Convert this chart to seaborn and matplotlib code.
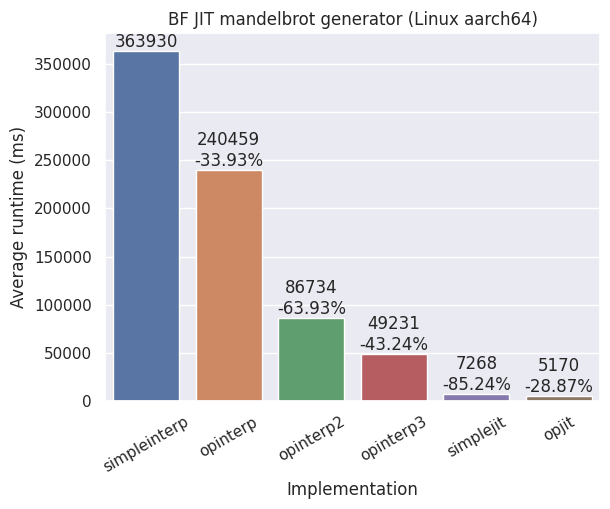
import seaborn as sns
import matplotlib.pyplot as plt
import pandas as pd

implementations = ["simpleinterp", "opinterp", "opinterp2", "opinterp3", "simplejit", "opjit"]
runtimes = [363930, 240459, 86734, 49231, 7268, 5170]
changes = ["", "-33.93%", "-63.93%", "-43.24%", "-85.24%", "-28.87%"]

sns.set_theme()

df = pd.DataFrame({"Implementation": implementations, "Average runtime (ms)": runtimes})

fig, ax = plt.subplots(figsize=(6.1, 5.09), dpi=100)
sns.barplot(data=df, x="Implementation", y="Average runtime (ms)",
            hue="Implementation", palette="deep", legend=False, ax=ax)

# first bar has no change, the rest show the drop relative to the previous one
labels = [f"{v}" if c == "" else f"{v}\n{c}" for v, c in zip(runtimes, changes)]
for cont, lab in zip(ax.containers, labels):
    ax.bar_label(cont, labels=[lab])

ax.set_title("BF JIT mandelbrot generator (Linux aarch64)")
plt.setp(ax.get_xticklabels(), rotation=30)

fig.subplots_adjust(left=0.172, right=0.984, top=0.935, bottom=0.212)
fig.savefig("out.png")
